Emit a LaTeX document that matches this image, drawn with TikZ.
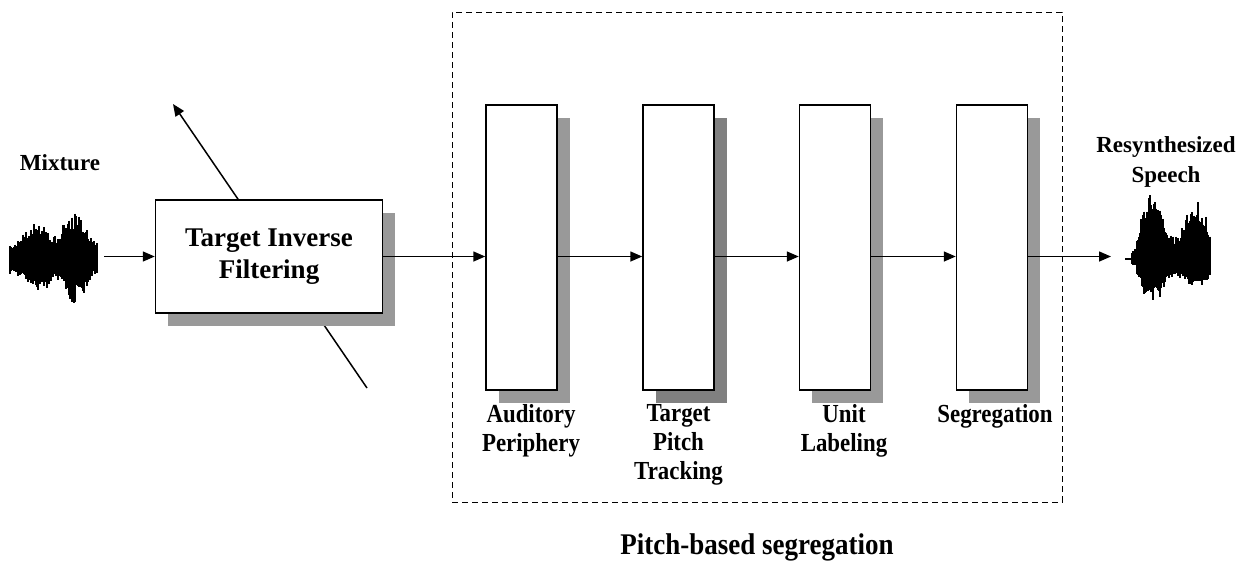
\documentclass[tikz,border=0pt]{standalone}
\usepackage{fontspec}
\setmainfont{Liberation Serif}
\newfontfamily\condfont[FakeStretch=0.88]{Liberation Serif}
\newfontfamily\capfont[FakeStretch=0.9]{Liberation Serif}
\usetikzlibrary{arrows.meta,shadows}
\begin{document}
\begin{tikzpicture}[x=1pt,y=-1pt,
  arr/.style={line width=1.5pt,-{Triangle[length=12pt,width=10pt]}},
  stagebox/.style={draw,line width=1.5pt,fill=white,minimum width=71pt,minimum height=285pt,inner sep=0pt,
    drop shadow={shadow xshift=12.5pt,shadow yshift=-13pt,fill=black!40,opacity=1}},
  darkshadow/.style={drop shadow={shadow xshift=12.5pt,shadow yshift=-13pt,fill=black!50,opacity=1}},
  filtbox/.style={draw,line width=1.5pt,fill=white,minimum width=227pt,minimum height=113pt,inner sep=0pt,align=center,
    font=\fontsize{27}{32}\selectfont\bfseries,
    drop shadow={shadow xshift=12pt,shadow yshift=-13pt,fill=black!40,opacity=1}},
  lbl/.style={font=\fontsize{23}{30}\selectfont\bfseries,align=center,inner sep=0pt},
  stagelbl/.style={font=\condfont\fontsize{26}{29}\selectfont\bfseries,align=center,inner sep=0pt,anchor=north},
  grpbox/.style={draw,dash pattern=on 6pt off 4pt,line width=1pt,minimum width=610pt,minimum height=490pt,inner sep=0pt},
  wave/.style={line width=1.2pt}
]
\useasboundingbox (0,0) rectangle (1246,565);

% group box
\node[grpbox] (grp) at (757,257) {};
\node[font=\capfont\fontsize{30}{33}\selectfont\bfseries,inner sep=0pt] (grplbl) at (757,547) {Pitch-based segregation};

% diagonal arrow through filter (behind)
\coordinate (d1) at (367,388);
\coordinate (d2) at (173,104);
\draw[arr] (d1) -- (d2);

% filter
\node[filtbox] (filt) at (269,256.5) {Target Inverse\\Filtering};

% stages
\node[stagebox] (b1) at (521.5,247.5) {};
\node[stagebox,darkshadow] (b2) at (678.5,247.5) {};
\node[stagebox] (b3) at (835,247.5) {};
\node[stagebox] (b4) at (992,247.5) {};

\node[stagelbl] (l1) at (531,404) {Auditory\\Periphery};
\node[stagelbl] (l2) at (678.5,404) {Target\\Pitch\\Tracking};
\node[stagelbl] (l3) at (844,404) {Unit\\Labeling};
\node[stagelbl] (l4) at (995,404) {Segregation};

% labels
\node[lbl] (mix) at (60,163) {Mixture};
\node[lbl] (res) at (1166,162) {Resynthesized\\Speech};

% connectors
\coordinate (in) at (104,256.5);
\coordinate (out) at (1111,256.5);
\draw[arr] (in) -- (filt.west);
\draw[arr] (filt.east) -- (filt.east -| b1.west);
\draw[arr] (filt.east -| b1.east) -- (filt.east -| b2.west);
\draw[arr] (filt.east -| b2.east) -- (filt.east -| b3.west);
\draw[arr] (filt.east -| b3.east) -- (filt.east -| b4.west);
\draw[arr] (filt.east -| b4.east) -- (out);

% mixture waveform
\pgfmathsetseed{11}
\foreach \i in {0,...,87} {
  \pgfmathsetmacro{\env}{15+22/(1+((\i-27)/13)^4)+30/(1+((\i-65)/13)^4)}
  \pgfmathsetmacro{\up}{\env*(0.6+0.4*rnd^2)}
  \pgfmathsetmacro{\dn}{\env*(0.6+0.4*rnd^2)}
  \draw[wave] (10+\i,258-\up) -- (10+\i,258+\dn);
}
% output waveform
\draw[wave] (1125,259) -- (1134,259);
\foreach \i in {1132,...,1210} {
  \pgfmathsetmacro{\base}{(\i<1137)?3:15}
  \pgfmathsetmacro{\envu}{\base+50/(1+((\i-1153)/12)^4)+42/(1+((\i-1196)/12)^4)}
  \pgfmathsetmacro{\envd}{\base+28/(1+((\i-1153)/12)^4)+16/(1+((\i-1196)/12)^4)}
  \pgfmathsetmacro{\up}{\envu*(0.65+0.35*rnd^2)}
  \pgfmathsetmacro{\dn}{\envd*(0.65+0.35*rnd^2)}
  \draw[wave] (\i,259-\up) -- (\i,259+\dn);
}
\end{tikzpicture}
\end{document}
